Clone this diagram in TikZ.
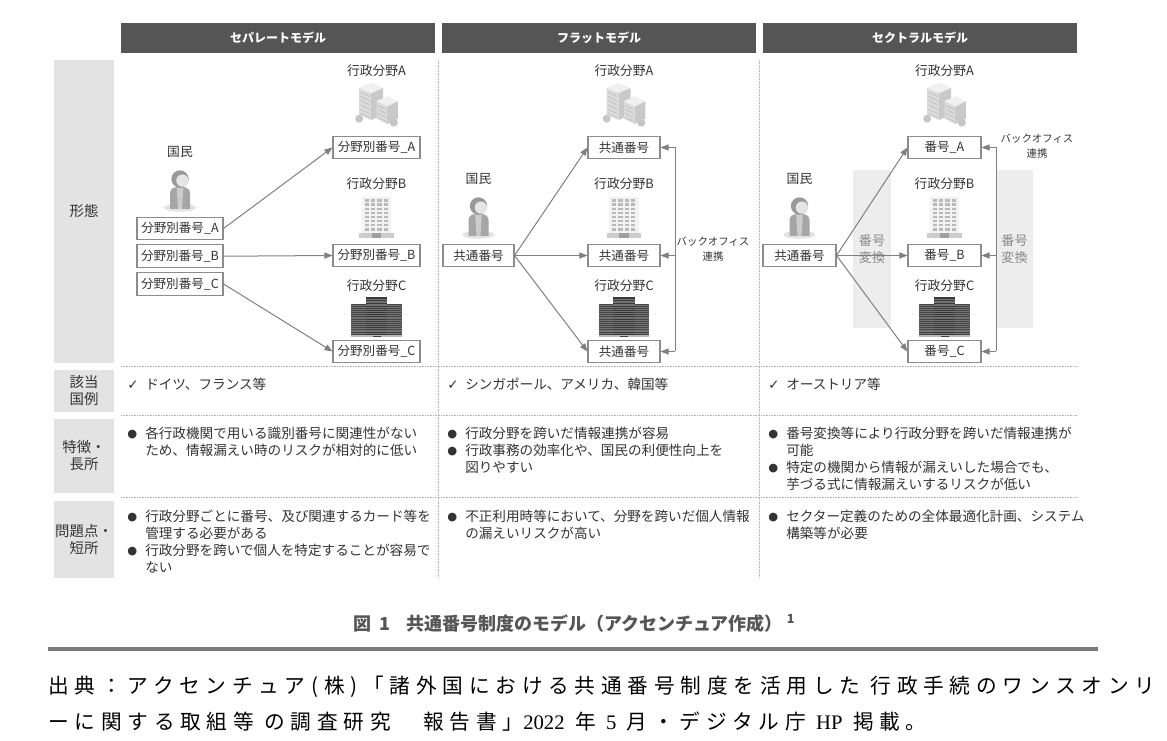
\documentclass[tikz,border=0pt]{standalone}
\usepackage{fontspec}
\setmainfont{Noto Sans CJK JP}
\newfontfamily\symfont{DejaVu Sans}
\newfontfamily\srcfont[LetterSpace=28]{Noto Sans CJK JP}
\newfontfamily\srcnum{Liberation Serif}
\usepackage{tikz}
\usetikzlibrary{arrows.meta,positioning}

\definecolor{barGray}{HTML}{555555}
\definecolor{headGray}{HTML}{E3E3E3}
\definecolor{inkGray}{HTML}{333333}
\definecolor{boxGray}{HTML}{8C8C8C}
\definecolor{flowGray}{HTML}{808080}
\definecolor{dotGray}{HTML}{B4B4B4}
\definecolor{zoneGray}{HTML}{EDEDED}
\definecolor{zoneText}{HTML}{8A8A8A}
\definecolor{ruleGray}{HTML}{7A7A7A}
\definecolor{capGray}{HTML}{555555}

\newcommand{\bul}{\makebox[13.5pt][l]{\raisebox{0.4pt}{\symfont\fontsize{8.5}{8.5}\selectfont ●}}}
\newcommand{\chk}{\makebox[13.5pt][l]{\symfont\fontsize{10}{10}\selectfont ✓}}
\newcommand{\ind}{\hspace*{13.5pt}}

\tikzset{
  every node/.style={
    font=\fontsize{9.5}{11.5}\selectfont,
    text=inkGray,
    inner sep=0pt
  },
  modelbar/.style={
    fill=barGray,
    text=white,
    font=\bfseries\fontsize{9}{10}\selectfont,
    minimum width=235.5pt,
    minimum height=22.5pt
  },
  rowhead/.style={
    fill=headGray,
    minimum width=45pt,
    align=center,
    font=\fontsize{10.8}{12.75}\selectfont
  },
  numbox/.style={
    draw=boxGray,
    line width=0.8pt,
    fill=white,
    minimum height=17pt,
    font=\fontsize{9.4}{11}\selectfont
  },
  field/.style={
    font=\fontsize{9.6}{11}\selectfont
  },
  flow/.style={
    draw=flowGray,
    line width=0.75pt,
    -{Triangle[length=6pt,width=4.6pt]}
  },
  busline/.style={
    draw=flowGray,
    line width=0.75pt
  },
  dotline/.style={
    draw=dotGray,
    line width=0.6pt,
    dash pattern=on 0.6pt off 0.6pt
  },
  bodytext/.style={
    anchor=north west,
    align=left,
    font=\fontsize{10.2}{12.75}\selectfont
  },
  convzone/.style={
    fill=zoneGray,
    text=zoneText,
    align=center,
    minimum height=118.5pt,
    font=\fontsize{9.8}{12.75}\selectfont
  },
  busnote/.style={
    align=center,
    font=\fontsize{7.8}{11.25}\selectfont
  },
  captiontext/.style={
    anchor=west,
    text=capGray,
    font=\bfseries\fontsize{13.5}{16}\selectfont
  },
  sourcetext/.style={
    anchor=west,
    text=black,
    font=\srcfont\fontsize{15.5}{18}\selectfont
  },
  citizen/.pic={
    \fill[gray!22] (0pt,-14pt) ellipse [x radius=12pt, y radius=3pt];
    \fill[gray!70] (-7.5pt,-15pt) -- (-7.5pt,-3pt) to[out=90,in=180] (-2pt,1.5pt)
      -- (2pt,1.5pt) to[out=0,in=90] (7.5pt,-3pt) -- (7.5pt,-15pt) -- cycle;
    \fill[gray!40] (-2.5pt,1pt) -- (2.5pt,1pt) -- (1.5pt,-15pt) -- (-1.5pt,-15pt) -- cycle;
    \fill[gray!80] (0pt,7.5pt) circle [radius=6.5pt];
    \fill[gray!20] (1.8pt,6.3pt) circle [radius=4.6pt];
  },
  officeA/.pic={
    \fill[gray!12] (-13pt,12pt) -- (-4pt,16pt) -- (5pt,12pt) -- (-4pt,8pt) -- cycle;
    \fill[gray!28] (-13pt,12pt) -- (-4pt,8pt) -- (-4pt,-12pt) -- (-13pt,-8pt) -- cycle;
    \fill[gray!42] (-4pt,8pt) -- (5pt,12pt) -- (5pt,-8pt) -- (-4pt,-12pt) -- cycle;
    \foreach \k in {0,...,5}
      \draw[gray!55, line width=0.4pt] (-12pt,{9pt-3.2pt*\k}) -- (-5pt,{5.5pt-3.2pt*\k});
    \fill[gray!12] (0pt,2pt) -- (8pt,6pt) -- (16pt,2pt) -- (8pt,-2pt) -- cycle;
    \fill[gray!28] (0pt,2pt) -- (8pt,-2pt) -- (8pt,-15pt) -- (0pt,-11pt) -- cycle;
    \fill[gray!42] (8pt,-2pt) -- (16pt,2pt) -- (16pt,-11pt) -- (8pt,-15pt) -- cycle;
    \foreach \k in {0,...,3}
      \draw[gray!55, line width=0.4pt] (1pt,{-1pt-3pt*\k}) -- (7pt,{-4pt-3pt*\k});
    \fill[gray!45] (-13pt,-11pt) circle [radius=3pt];
    \fill[gray!45] (13pt,-14pt) circle [radius=3pt];
  },
  officeB/.pic={
    \fill[gray!10] (-11pt,-11pt) rectangle (11pt,16pt);
    \foreach \i in {0,...,3}
      \foreach \j in {0,...,7}
        \fill[gray!55] ({-9pt+4.8pt*\i},{14pt-3.1pt*\j}) rectangle ++(3.2pt,-1.7pt);
    \fill[gray!40] (-13pt,-11pt) rectangle (13pt,-15pt);
    \fill[gray!75] (-3.5pt,-11.5pt) rectangle (3.5pt,-15pt);
  },
  officeC/.pic={
    \fill[black!72] (-19pt,-15pt) rectangle (-5pt,10pt);
    \fill[black!72] (5pt,-15pt) rectangle (19pt,10pt);
    \fill[black!78] (-8pt,-15pt) rectangle (8pt,15pt);
    \foreach \k in {0,...,16}
      \draw[black!55, line width=0.25pt] (-19pt,{9pt-1.4pt*\k}) -- (19pt,{9pt-1.4pt*\k});
    \foreach \k in {0,...,3}
      \draw[black!55, line width=0.25pt] (-8pt,{14pt-1.4pt*\k}) -- (8pt,{14pt-1.4pt*\k});
    \fill[gray!55] (-19pt,-15pt) rectangle (19pt,-13.5pt);
    \fill[black!75] (-3pt,-15pt) rectangle (3pt,-13.8pt);
  }
}

\begin{document}
\begin{tikzpicture}[x=0.75pt,y=-0.75pt]
  \useasboundingbox[fill=white] (0,0) rectangle (1167,741);

  % model headers
  \node[modelbar] (sepHead) at (278,38) {セパレートモデル};
  \node[modelbar] (flatHead) at (599,38) {フラットモデル};
  \node[modelbar] (secHead) at (920,38) {セクトラルモデル};

  % row headers
  \node[rowhead, minimum height=227.25pt] (rowForm) at (84,211.5) {形態};
  \node[rowhead, minimum height=31.5pt] (rowCountry) at (84,391) {該当\\国例};
  \node[rowhead, minimum height=55.5pt] (rowMerit) at (84,456) {特徴・\\長所};
  \node[rowhead, minimum height=57.75pt] (rowIssue) at (84,539.5) {問題点・\\短所};

  % grid
  \foreach \y in {366.5,415.5,497.5}
    \draw[dotline] (121,\y) -- (1077,\y);
  \foreach \x in {438.5,759.5}
    \draw[dotline] (\x,60) -- (\x,578);

  % fields and buildings
  \foreach \cx/\col in {376.5/sep,624/flat,944.5/sec}{
    \node[field] (\col FieldA) at (\cx,71) {行政分野A};
    \node[field] (\col FieldB) at (\cx,184) {行政分野B};
    \node[field] (\col FieldC) at (\cx,286) {行政分野C};
    \pic at (\cx,104) {officeA};
    \pic at (\cx,218) {officeB};
    \pic at (\cx,317.5) {officeC};
  }

  % separate model
  \node[field] (sepCitizen) at (180,152) {国民};
  \pic at (180,189) {citizen};
  \node[numbox, minimum width=64.5pt] (sepA) at (180,228.5) {分野別番号\_A};
  \node[numbox, minimum width=64.5pt, below=3pt of sepA] (sepB) {分野別番号\_B};
  \node[numbox, minimum width=64.5pt, below=3pt of sepB] (sepC) {分野別番号\_C};
  \node[numbox, minimum width=65.25pt] (sepRA) at (376.5,147.5) {分野別番号\_A};
  \node[numbox, minimum width=65.25pt] (sepRB) at (376.5,255.5) {分野別番号\_B};
  \node[numbox, minimum width=65.25pt] (sepRC) at (376.5,351.5) {分野別番号\_C};
  \draw[flow] (sepA.east) -- (sepRA.west);
  \draw[flow] (sepB.east) -- (sepRB.west);
  \draw[flow] (sepC.east) -- (sepRC.west);

  % flat model
  \node[field] (flatCitizen) at (478.5,179) {国民};
  \pic at (478.5,216) {citizen};
  \node[numbox, minimum width=53.25pt] (flatN) at (478.5,255.5) {共通番号};
  \node[numbox, minimum width=54pt] (flatRA) at (624,147.5) {共通番号};
  \node[numbox, minimum width=54pt] (flatRB) at (624,255.5) {共通番号};
  \node[numbox, minimum width=54pt] (flatRC) at (624,351.5) {共通番号};
  \foreach \n in {flatRA,flatRB,flatRC}
    \draw[flow] (flatN.east) -- (\n.west);
  \coordinate (flatBus) at (675,250);
  \draw[busline] (flatBus |- flatRA.east) -- (flatBus |- flatRC.east);
  \foreach \n in {flatRA,flatRB,flatRC}
    \draw[flow] (flatBus |- \n.east) -- (\n.east);
  \node[busnote] (flatBusNote) at (713,249) {バックオフィス\\連携};

  % sectoral model
  \node[convzone, minimum width=28.5pt] (secConvL) at (872,249) {番号\\変換};
  \node[convzone, minimum width=27.75pt] (secConvR) at (1014.5,249) {番号\\変換};
  \node[field] (secCitizen) at (799.5,179) {国民};
  \pic at (799.5,216) {citizen};
  \node[numbox, minimum width=54.75pt] (secN) at (799.5,255.5) {共通番号};
  \node[numbox, minimum width=54.75pt] (secRA) at (944.5,147.5) {番号\_A};
  \node[numbox, minimum width=54.75pt] (secRB) at (944.5,255.5) {番号\_B};
  \node[numbox, minimum width=54.75pt] (secRC) at (944.5,351.5) {番号\_C};
  \foreach \n in {secRA,secRB,secRC}
    \draw[flow] (secN.east) -- (\n.west);
  \coordinate (secBus) at (996,250);
  \draw[busline] (secBus |- secRA.east) -- (secBus |- secRC.east);
  \foreach \n in {secRA,secRB,secRC}
    \draw[flow] (secBus |- \n.east) -- (\n.east);
  \node[busnote] (secBusNote) at (1037,146) {バックオフィス\\連携};

  % countries
  \node[bodytext] (sepCountry) at (127,377.5) {\chk ドイツ、フランス等};
  \node[bodytext] (flatCountry) at (447,377.5) {\chk シンガポール、アメリカ、韓国等};
  \node[bodytext] (secCountry) at (768,377.5) {\chk オーストリア等};

  % merits
  \node[bodytext] (sepMerit) at (127,426.5) {\bul 各行政機関で用いる識別番号に関連性がない\\
    \ind ため、情報漏えい時のリスクが相対的に低い};
  \node[bodytext] (flatMerit) at (447,426.5) {\bul 行政分野を跨いだ情報連携が容易\\
    \bul 行政事務の効率化や、国民の利便性向上を\\
    \ind 図りやすい};
  \node[bodytext] (secMerit) at (768,426.5) {\bul 番号変換等により行政分野を跨いだ情報連携が\\
    \ind 可能\\
    \bul 特定の機関から情報が漏えいした場合でも、\\
    \ind 芋づる式に情報漏えいするリスクが低い};

  % issues
  \node[bodytext] (sepIssue) at (127,509.5) {\bul 行政分野ごとに番号、及び関連するカード等を\\
    \ind 管理する必要がある\\
    \bul 行政分野を跨いで個人を特定することが容易で\\
    \ind ない};
  \node[bodytext] (flatIssue) at (447,509.5) {\bul 不正利用時等において、分野を跨いだ個人情報\\
    \ind の漏えいリスクが高い};
  \node[bodytext] (secIssue) at (768,509.5) {\bul セクター定義のための全体最適化計画、システム\\
    \ind 構築等が必要};

  % caption and source
  \node[captiontext] (figCaption) at (353,623)
    {図\hspace{6pt}1\hspace{12pt}共通番号制度のモデル（アクセンチュア作成）\hspace{3pt}\textsuperscript{1}};
  \draw[ruleGray, line width=3pt] (48,649) -- (1098,649);
  \node[sourcetext] (srcLine1) at (48,687)
    {出典：アクセンチュア(株)「諸外国における共通番号制度を活用した 行政手続のワンスオンリ};
  \node[sourcetext] (srcLine2) at (48,722)
    {ーに関する取組等 の調査研究　報告書」{\srcnum 2022} 年 {\srcnum 5} 月・デジタル庁 {\srcnum HP} 掲載。};
\end{tikzpicture}
\end{document}
